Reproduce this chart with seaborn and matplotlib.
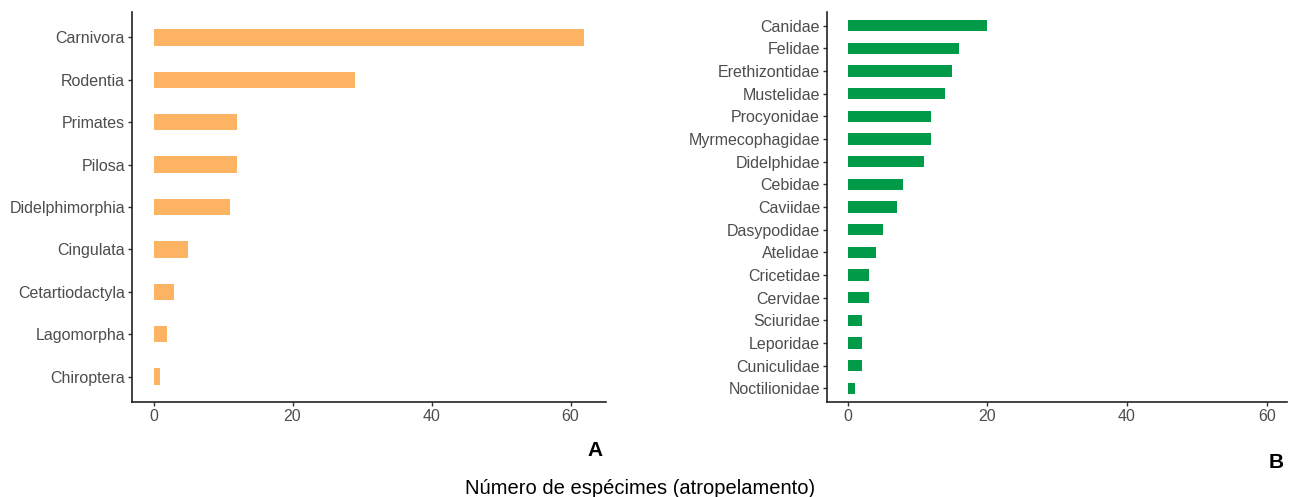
import matplotlib
matplotlib.use("Agg")
import matplotlib.pyplot as plt
import seaborn as sns
import pandas as pd

# Road-kill specimen counts by order (A) and by family (B)
orders = ["Carnivora", "Rodentia", "Primates", "Pilosa", "Didelphimorphia",
          "Cingulata", "Cetartiodactyla", "Lagomorpha", "Chiroptera"]
order_counts = [62, 29, 12, 12, 11, 5, 3, 2, 1]

families = ["Canidae", "Felidae", "Erethizontidae", "Mustelidae", "Procyonidae",
            "Myrmecophagidae", "Didelphidae", "Cebidae", "Caviidae", "Dasypodidae",
            "Atelidae", "Cricetidae", "Cervidae", "Sciuridae", "Leporidae",
            "Cuniculidae", "Noctilionidae"]
family_counts = [20, 16, 15, 14, 12, 12, 11, 8, 7, 5, 4, 3, 3, 2, 2, 2, 1]

x_ticks = [0, 20, 40, 60]

sns.set_theme(style="ticks")
plt.rcParams["font.family"] = ["Liberation Sans", "DejaVu Sans"]

W, H = 1290, 497
fig = plt.figure(figsize=(W / 100, H / 100), dpi=100)

def box(l, r, t, b):
    return [l / W, 1 - b / H, (r - l) / W, (b - t) / H]

ax_a = fig.add_axes(box(132, 606, 12, 402))
ax_b = fig.add_axes(box(827, 1287, 12, 402))

df_a = pd.DataFrame({"ordem": orders, "n": order_counts})
df_b = pd.DataFrame({"familia": families, "n": family_counts})

sns.barplot(data=df_a, x="n", y="ordem", ax=ax_a, color="#FDB462",
            saturation=1, width=0.39, orient="h", linewidth=0)
sns.barplot(data=df_b, x="n", y="familia", ax=ax_b, color="#009A49",
            saturation=1, width=0.5, orient="h", linewidth=0)

ax_a.set_xlim(-3.1, 65.1)
ax_a.set_ylim(len(orders) - 1 + 0.6, -0.6)
ax_b.set_xlim(-2.95, 62.9)
ax_b.set_ylim(len(families) - 1 + 0.6, -0.6)

for ax in (ax_a, ax_b):
    ax.set_xticks(x_ticks)
    ax.set_xlabel("")
    ax.set_ylabel("")
    for side in ("top", "right"):
        ax.spines[side].set_visible(False)
    for side in ("left", "bottom"):
        ax.spines[side].set_color("#222222")
        ax.spines[side].set_linewidth(1.2)
    ax.tick_params(axis="both", length=3, width=1.0, color="#333333",
                   labelcolor="#4D4D4D", labelsize=11.5, pad=2)
    ax.grid(False)

fig.text(595 / W, 1 - 451 / H, "A", fontsize=15, fontweight="bold",
         ha="center", va="center", color="black")
fig.text(1276 / W, 1 - 462 / H, "B", fontsize=15, fontweight="bold",
         ha="center", va="center", color="black")
fig.text(640 / W, 1 - 488 / H, "Número de espécimes (atropelamento)",
         fontsize=14.5, ha="center", va="center", color="black")

fig.savefig("out.png", dpi=100)
